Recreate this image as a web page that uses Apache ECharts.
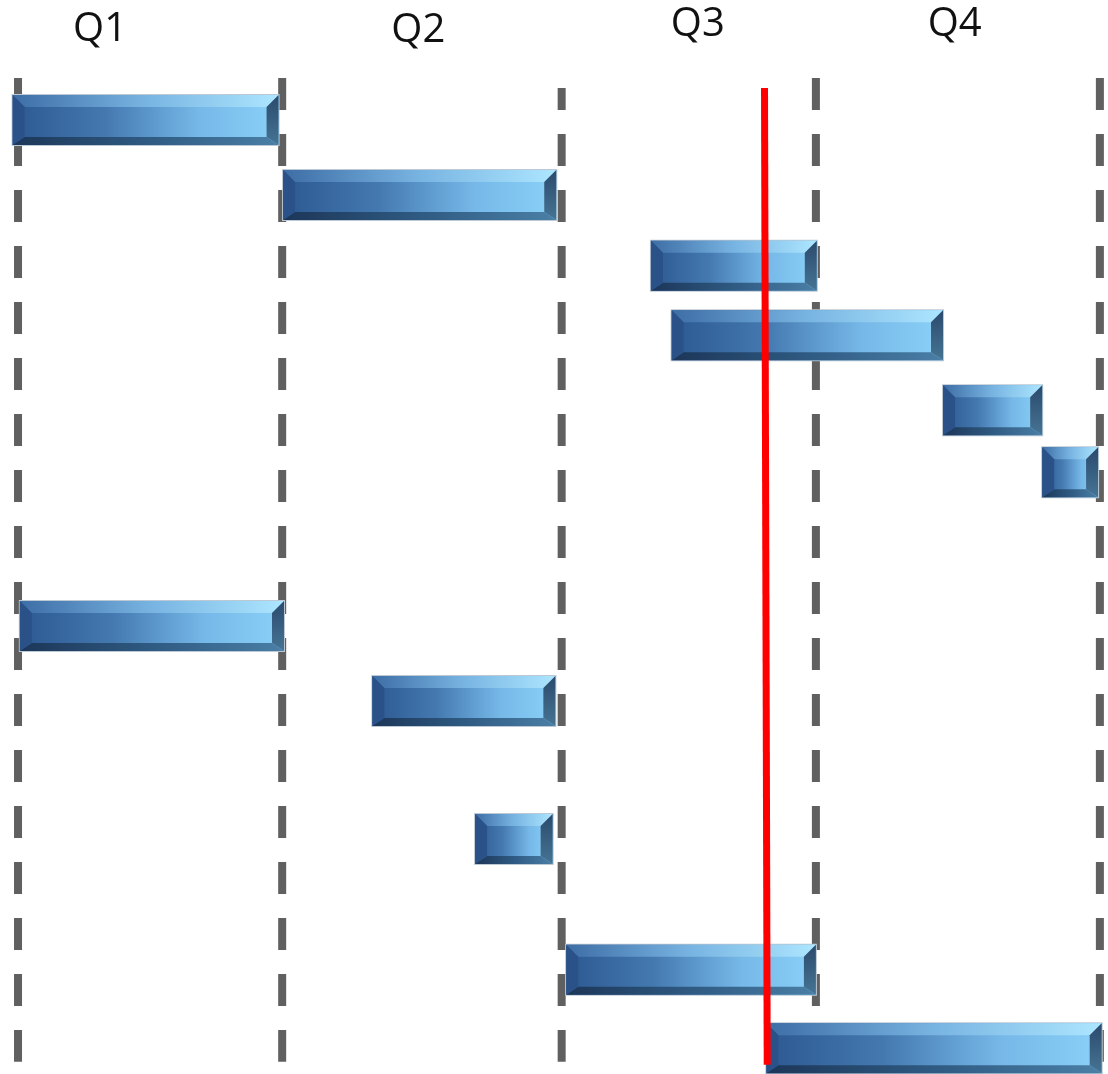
<!DOCTYPE html>
<html>
<head>
<meta charset="utf-8">
<script src="https://cdn.jsdelivr.net/npm/echarts@6/dist/echarts.min.js"></script>
<style>html,body{margin:0;padding:0;background:#fff;}#main{width:1108px;height:1074px;}</style>
</head>
<body>
<div id="main"></div>
<script>
// x in months (0..12), y in row units
var quarterLabels = ['Q1', 'Q2', 'Q3', 'Q4'];
var quarterLabelX = [0.91, 4.44, 7.54, 10.39];
var quarterLabelY = [-1.26, -1.25, -1.34, -1.34];
var quarterBounds = [0, 2.93, 6.03, 8.85, 12];
var barStart = [-0.06, 2.94, 7.02, 7.25, 10.26, 11.36, 0.02, 3.93, 5.07, 6.08, 8.30];
var barEnd   = [2.89, 5.97, 8.86, 10.26, 11.36, 11.98, 2.95, 5.96, 5.93, 8.85, 12.02];
var barRow   = [0, 1.05, 2.04, 3.01, 4.06, 4.93, 7.08, 8.13, 10.06, 11.89, 12.99];
var todayLine = [[8.28, -0.45], [8.31, 13.22]];
var gridTop = -0.59, gridBottom = 13.18;

var barData = barStart.map(function (s, i) { return [s, barEnd[i], barRow[i]]; });

var chart = echarts.init(document.getElementById('main'));

function renderBar(params, api) {
  var p0 = api.coord([api.value(0), api.value(2)]);
  var p1 = api.coord([api.value(1), api.value(2)]);
  var h = 50;
  var x0 = p0[0], x1 = p1[0], y0 = p0[1] - h / 2, y1 = p0[1] + h / 2;
  var w = x1 - x0;
  var b = Math.min(12, w / 4), bb = Math.min(8, w / 5);
  return {
    type: 'group',
    children: [
      { type: 'rect', shape: { x: x0 - 1, y: y0 - 1, width: w + 2, height: h + 2 },
        style: { fill: '#bcc8d4' } },
      { type: 'rect', shape: { x: x0, y: y0, width: w, height: h },
        style: { fill: new echarts.graphic.LinearGradient(0, 0, 1, 0, [
          { offset: 0, color: '#2c5890' }, { offset: 0.35, color: '#4479b0' },
          { offset: 0.7, color: '#76b8e8' }, { offset: 1, color: '#8ad1f8' }]) } },
      { type: 'polygon', shape: { points: [[x0, y0], [x1, y0], [x1 - b, y0 + b], [x0 + b, y0 + b]] },
        style: { fill: new echarts.graphic.LinearGradient(0, 0, 1, 0, [
          { offset: 0, color: '#3d6da5' }, { offset: 0.5, color: '#78b4e2' },
          { offset: 1, color: '#ade6ff' }]) } },
      { type: 'polygon', shape: { points: [[x0, y1], [x1, y1], [x1 - b, y1 - bb], [x0 + b, y1 - bb]] },
        style: { fill: new echarts.graphic.LinearGradient(0, 0, 1, 0, [
          { offset: 0, color: '#1c3658' }, { offset: 0.5, color: '#2f5a82' },
          { offset: 1, color: '#4a7fa6' }]) } },
      { type: 'polygon', shape: { points: [[x0, y0], [x0 + b, y0 + b], [x0 + b, y1 - bb], [x0, y1]] },
        style: { fill: '#2a5288' } },
      { type: 'polygon', shape: { points: [[x1, y0], [x1 - b, y0 + b], [x1 - b, y1 - bb], [x1, y1]] },
        style: { fill: new echarts.graphic.LinearGradient(0, 0, 0, 1, [
          { offset: 0, color: '#2b4a6c' }, { offset: 1, color: '#467494' }]) } }
    ]
  };
}

var dashSeries = quarterBounds.map(function (q, i) {
  return {
    type: 'line', data: [[q, gridTop], [q, gridBottom]], symbol: 'none', silent: true, z: 1,
    lineStyle: { color: '#606060', width: 8, type: [32, 24], dashOffset: i === 2 ? 10 : 0 }
  };
});
// clip the top of the Q2/Q3 boundary dash (starts a bit lower in the reference)
dashSeries[2].data = [[quarterBounds[2], gridTop + 0.14], [quarterBounds[2], gridBottom]];

var option = {
  animation: false,
  grid: { left: 0, right: 0, top: 0, bottom: 0 },
  xAxis: { type: 'value', min: -0.2, max: 12.09, show: false },
  yAxis: { type: 'value', min: -1.68, max: 13.35, inverse: true, show: false },
  series: dashSeries.concat([
    { type: 'custom', renderItem: renderBar, data: barData, z: 5,
      encode: { x: [0, 1], y: 2 } },
    { type: 'line', data: todayLine, symbol: 'none', z: 10,
      lineStyle: { color: '#ff0000', width: 7 } },
    { type: 'custom', z: 10,
      data: quarterLabels.map(function (l, i) { return [quarterLabelX[i], quarterLabelY[i], l]; }),
      renderItem: function (params, api) {
        var p = api.coord([api.value(0), api.value(1)]);
        return { type: 'text', x: p[0], y: p[1],
          style: { text: quarterLabels[params.dataIndex], fill: '#111111',
            font: '40px "Open Sans", sans-serif', textAlign: 'center', textVerticalAlign: 'middle' } };
      } }
  ])
};
chart.setOption(option);
</script>
</body>
</html>
